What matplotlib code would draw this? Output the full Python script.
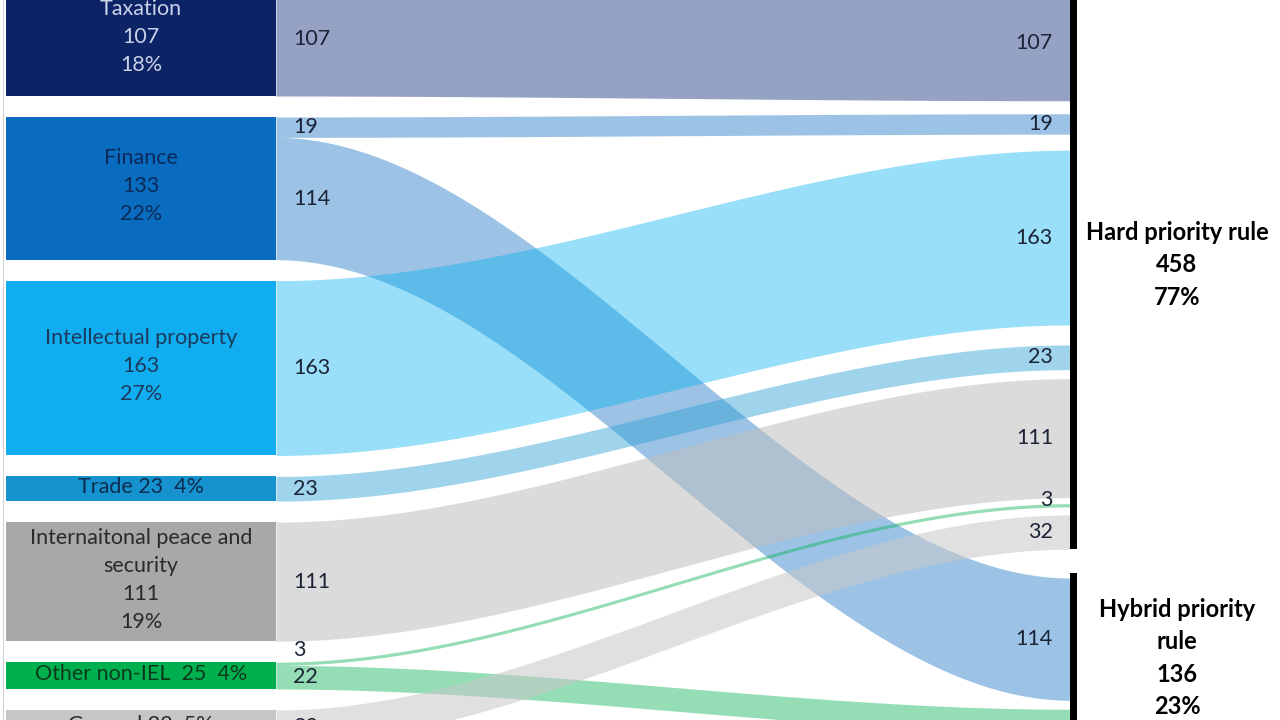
import numpy as np
import matplotlib
matplotlib.use("Agg")
import matplotlib.pyplot as plt
import matplotlib.patches as patches

plt.rcParams['font.family'] = ['Lato', 'DejaVu Sans']

# data
sources = ['Taxation', 'Finance', 'Intellectual property', 'Trade',
           'Internaitonal peace and\nsecurity', 'Other non-IEL', 'General']
source_totals = [107, 133, 163, 23, 111, 25, 32]
source_pcts = [18, 22, 27, 4, 19, 4, 5]
compact = [False, False, False, True, False, True, True]

targets = ['Hard priority rule', 'Hybrid priority\nrule']
target_totals = [458, 136]
target_pcts = [77, 23]

to_hard = [107, 19, 163, 23, 111, 3, 32]
to_hybrid = [0, 114, 0, 0, 0, 22, 0]

# styles
node_colors = ['#0c2366', '#0a6cbf', '#10aef0', '#1693cf', '#a9a7a7', '#00b04f', '#c6c6c6']
node_text = ['#c9d2e8', '#0b2a5a', '#1b3a5c', '#0d2c4f', '#2a2a2a', '#0a3a1c', '#2a2a2a']
flow_colors = ['#96a2c3', '#5b9bd5', '#00b0f0', '#2e9fd6', '#bfbfbf', '#00b050', '#c8c8c8']
flow_alpha = [1.0, 0.6, 0.4, 0.45, 0.55, 0.42, 0.55]

fig = plt.figure(figsize=(12.8, 7.2), dpi=100)
ax = fig.add_axes([0, 0, 1, 1])
ax.set_xlim(0, 1280)
ax.set_ylim(720, 0)
ax.axis('off')

s = 1.0725          # px per unit
xl0, xl1 = 6, 276   # left node box
xr = 1070           # right node bar

# left node positions
left_top = []
y = 96 - source_totals[0] * s
for v in source_totals:
    left_top.append(y)
    y += v * s + 21

# right band positions (hard node)
hard_gaps = [13, 16, 20, 9, 6, 8]
hard_top = -14
right_hard = []
y = hard_top
for i, v in enumerate(to_hard):
    right_hard.append(y)
    y += v * s
    if i < len(hard_gaps):
        y += hard_gaps[i]
hard_bot = y

hyb_bar_top = 573
right_hyb = {}
y = 578
for i, v in enumerate(to_hybrid):
    if v:
        right_hyb[i] = y
        y += v * s + 9


def band(x0, x1, y0, y1, h, color, alpha):
    x = np.linspace(x0, x1, 300)
    u = (x - x0) / (x1 - x0)
    f = u * u * (3 - 2 * u)
    yt = y0 + (y1 - y0) * f
    ax.fill_between(x, yt, yt + h, color=color, alpha=alpha, lw=0)


# flows
left_labels = []
right_labels = []
for i in range(len(sources)):
    y0 = left_top[i]
    for v, y1 in ((to_hard[i], right_hard[i]), (to_hybrid[i], right_hyb.get(i))):
        if not v:
            continue
        h = v * s
        band(xl1, xr, y0, y1, h, flow_colors[i], flow_alpha[i])
        left_labels.append((v, y0, h))
        right_labels.append((v, y1, h))
        y0 += h

# left nodes
for i, name in enumerate(sources):
    h = source_totals[i] * s
    ax.add_patch(patches.Rectangle((xl0, left_top[i]), xl1 - xl0, h,
                                   facecolor=node_colors[i], lw=0))
    if compact[i]:
        sep = '  ' if name == 'Other non-IEL' else ' '
        txt = f"{name}{sep}{source_totals[i]}  {source_pcts[i]}%"
    else:
        txt = f"{name}\n{source_totals[i]}\n{source_pcts[i]}%"
    ax.text((xl0 + xl1) / 2, left_top[i] + h / 2 - 2, txt, ha='center', va='center',
            fontsize=15.5, color=node_text[i], linespacing=1.5)

# flow value labels
for v, y0, h in left_labels:
    yy = y0 - 12 if h < 10 else y0 + h / 2
    ax.text(293, yy, str(v), ha='left', va='center', fontsize=15.5, color='#1b2436')
for v, y1, h in right_labels:
    if y1 + h / 2 > 712:
        continue
    yy = y1 - 4 if h < 10 else y1 + h / 2
    ax.text(1053, yy, str(v), ha='right', va='center', fontsize=15.5, color='#1b2436')

# right bars
ax.add_patch(patches.Rectangle((xr, hard_top), 7, hard_bot - hard_top, facecolor='black', lw=0))
ax.add_patch(patches.Rectangle((xr, hyb_bar_top), 7, 200, facecolor='black', lw=0))

ax.text(1177, 265, f"{targets[0]}\n{target_totals[0]}\n{target_pcts[0]}%", ha='center',
        va='center', fontsize=17, fontweight='bold', color='black', linespacing=1.48)
ax.text(1177, 658, f"{targets[1]}\n{target_totals[1]}\n{target_pcts[1]}%", ha='center',
        va='center', fontsize=17, fontweight='bold', color='black', linespacing=1.48)

# faint leftover gridlines at the left edge
ax.plot([3, 3], [0, 720], color='#d4d4d4', lw=0.8)

fig.savefig('out.png', dpi=100)
